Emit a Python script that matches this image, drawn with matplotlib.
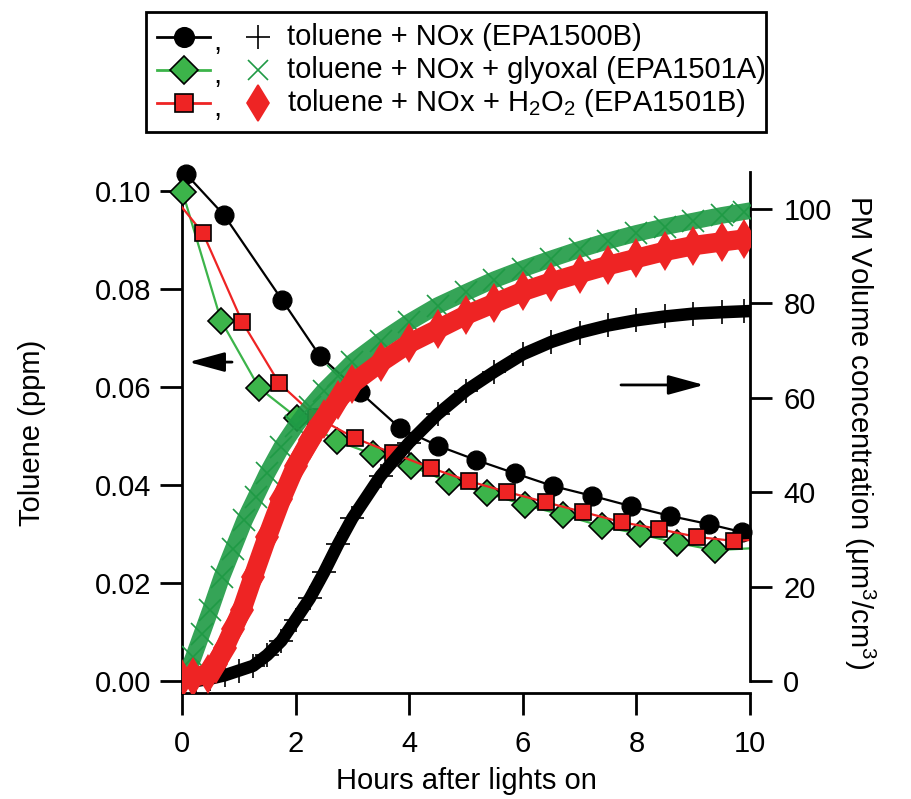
import matplotlib
matplotlib.use("Agg")
import matplotlib.pyplot as plt
from matplotlib.lines import Line2D
from matplotlib.patches import Rectangle

plt.rcParams['font.family'] = ['Liberation Sans', 'DejaVu Sans']
plt.rcParams['mathtext.fontset'] = 'custom'
plt.rcParams['mathtext.rm'] = 'Liberation Sans'
plt.rcParams['mathtext.it'] = 'Liberation Sans:italic'

FS = 21

# toluene (ppm), left axis
tol_t_1500b = [0.07, 0.74, 1.76, 2.43, 3.13, 3.84, 4.51, 5.18, 5.86, 6.53, 7.22, 7.90, 8.59, 9.28, 9.86]
tol_1500b = [0.1035, 0.0951, 0.0778, 0.0663, 0.0590, 0.0516, 0.0480, 0.0451, 0.0424, 0.0398,
             0.0378, 0.0357, 0.0337, 0.0320, 0.0304]

tol_t_1501a = [0.01, 0.69, 1.36, 2.03, 2.73, 3.36, 4.03, 4.70, 5.37, 6.04, 6.71, 7.39, 8.06, 8.71, 9.38, 10.2]
tol_1501a = [0.0998, 0.0735, 0.0598, 0.0537, 0.0490, 0.0463, 0.0439, 0.0406, 0.0384, 0.0359,
             0.0339, 0.0316, 0.0300, 0.0282, 0.0267, 0.0272]

tol_t_1501b = [0.0, 0.37, 1.06, 1.71, 2.36, 3.04, 3.71, 4.38, 5.05, 5.72, 6.40, 7.06, 7.75, 8.40, 9.07, 9.72, 10.2]
tol_1501b = [0.0967, 0.0914, 0.0733, 0.0608, 0.0539, 0.0496, 0.0465, 0.0435, 0.0408, 0.0386,
             0.0365, 0.0345, 0.0324, 0.0310, 0.0294, 0.0286, 0.0289]

# PM volume (um3/cm3), right axis
pm_t_1500b = [0.25, 0.5, 0.75, 1.0, 1.25, 1.5, 1.75, 2.0, 2.25, 2.5, 2.75, 3.0, 3.5, 4.0, 4.5,
              5.0, 5.5, 6.0, 6.5, 7.0, 7.5, 8.0, 8.5, 9.0, 9.5, 9.9]
pm_1500b = [0, 0.5, 1.2, 2.2, 3.2, 5.5, 8.5, 13, 17.5, 23, 29, 34.5, 43.5, 50.5, 56.5,
            61.5, 65.5, 69.2, 71.8, 73.8, 75.3, 76.4, 77.2, 77.8, 78.1, 78.3]

pm_t_1501a = [0.0, 0.1, 0.2, 0.35, 0.5, 0.7, 0.9, 1.1, 1.3, 1.5, 1.75, 2.0, 2.25, 2.5, 2.75,
              3.0, 3.5, 4.0, 4.5, 5.0, 5.5, 6.0, 6.5, 7.0, 7.5, 8.0, 8.5, 9.0, 9.5, 9.9]
pm_1501a = [0, 2, 5, 10, 15, 22, 28, 34, 39, 44, 49.5, 54, 58, 61.5, 64.5,
            67.5, 72, 76, 79.5, 82.3, 85, 87.3, 89.4, 91.4, 93.2, 94.8, 96.2, 97.4, 98.6, 99.4]

pm_t_1501b = [0.0, 0.2, 0.45, 0.6, 0.75, 0.9, 1.05, 1.25, 1.5, 1.75, 2.0, 2.25, 2.5, 2.75, 3.0,
              3.5, 4.0, 4.5, 5.0, 5.5, 6.0, 6.5, 7.0, 7.5, 8.0, 8.5, 9.0, 9.5, 9.9]
pm_1501b = [0.5, 0.8, 1.5, 3.5, 7, 11, 15, 22, 30.5, 38.5, 45.5, 51, 55.5, 59.5, 63,
            67.5, 71.5, 74.5, 77.5, 80, 82.5, 84.5, 86.3, 88, 89.5, 91, 92.2, 93, 93.6]

W, H = 912, 799
fig = plt.figure(figsize=(W / 100, H / 100), dpi=100)
ax = fig.add_axes([182 / W, 1 - 693 / H, (750 - 182) / W, (693 - 172) / H])
ax2 = ax.twinx()

black = 'black'
green_line = '#3cb44a'
green_dark = '#1f9a45'
red = '#ee2424'

# toluene traces
ax.plot(tol_t_1500b, tol_1500b, '-o', color=black, lw=1.6, ms=13.5, mfc=black, mec=black,
        clip_on=False, zorder=3)
ax.plot(tol_t_1501a[:-1], tol_1501a[:-1], 'D', color=green_line, ms=13.5, mfc=green_line,
        mec='black', mew=1.2, clip_on=False, zorder=4)
ax.plot(tol_t_1501a, tol_1501a, '-', color=green_line, lw=1.6, zorder=3)
ax.plot(tol_t_1501b[1:-1], tol_1501b[1:-1], 's', color=red, ms=12, mfc=red,
        mec='black', mew=1.2, clip_on=False, zorder=5)
ax.plot(tol_t_1501b, tol_1501b, '-', color=red, lw=1.6, zorder=4)

# PM traces
ax2.plot(pm_t_1500b, pm_1500b, '-', color=black, lw=9, zorder=2)
ax2.plot(pm_t_1500b, pm_1500b, '+', color=black, ms=17, mew=1.2, zorder=2)
ax2.plot(pm_t_1501a, pm_1501a, '-', color=green_dark, lw=12, alpha=0.9, zorder=3)
ax2.plot(pm_t_1501a, pm_1501a, 'x', color=green_dark, ms=16, mew=1.2, zorder=3)
ax2.plot(pm_t_1501b, pm_1501b, '-', color=red, lw=14, zorder=4)
ax2.plot(pm_t_1501b, pm_1501b, 'd', color=red, ms=20, mew=0, zorder=4)

ax.set_xlim(0, 10)
ax.set_ylim(-0.00245, 0.1039)
ax2.set_ylim(-2.54, 107.8)

ax.set_xticks([0, 2, 4, 6, 8, 10])
ax.set_yticks([0.0, 0.02, 0.04, 0.06, 0.08, 0.10])
ax.set_yticklabels(['0.00', '0.02', '0.04', '0.06', '0.08', '0.10'])
ax2.set_yticks([0, 20, 40, 60, 80, 100])

for s in ['top', 'right']:
    ax.spines[s].set_visible(False)
for s in ['top', 'left', 'bottom']:
    ax2.spines[s].set_visible(False)
ax2.spines['right'].set_bounds(0, 107.8)
for sp in [ax.spines['left'], ax.spines['bottom'], ax2.spines['right']]:
    sp.set_linewidth(2)

ax.tick_params(axis='y', direction='out', length=16, width=2, labelsize=FS, pad=6)
ax.tick_params(axis='x', direction='out', length=16, width=2, labelsize=FS, pad=11)
ax2.tick_params(direction='out', length=16, width=2, labelsize=FS, pad=8)

ax.set_xlabel('Hours after lights on', fontsize=FS, labelpad=6)
ax.set_ylabel('Toluene (ppm)', fontsize=FS, labelpad=35)
ax2.set_ylabel('PM Volume concentration (μm$^3$/cm$^3$)', fontsize=FS, rotation=-90,
               labelpad=33)

# arrows pointing to the axes
arrow_style = '-|>,head_length=1.1,head_width=0.3'
ax.annotate('', xy=(0.07, 0.0651), xytext=(0.93, 0.0651),
            arrowprops=dict(arrowstyle=arrow_style, color='black', lw=2, mutation_scale=20))
ax2.annotate('', xy=(9.24, 62.7), xytext=(7.68, 62.7),
             arrowprops=dict(arrowstyle=arrow_style, color='black', lw=2, mutation_scale=20))

# legend box drawn by hand
def fx(px):
    return px / W

def fy(py):
    return 1 - py / H

fig.add_artist(Rectangle((fx(146), fy(132)), 620 / W, 120 / H, fill=False, lw=2,
                         transform=fig.transFigure))
rows = [
    (37, black, 'o', black, 14, '+', black, 17, 'toluene + NOx (EPA1500B)'),
    (70, green_line, 'D', green_line, 14, 'x', green_dark, 14, 'toluene + NOx + glyoxal (EPA1501A)'),
    (103, red, 's', red, 13, 'd', red, 18, 'toluene + NOx + H$_2$O$_2$ (EPA1501B)'),
]
for py, lc, m1, fc, ms1, m2, c2, ms2, label in rows:
    mec = black if m1 != 'o' else fc
    fig.add_artist(Line2D([fx(157), fx(210)], [fy(py), fy(py)], color=lc, lw=2,
                          transform=fig.transFigure))
    fig.add_artist(Line2D([fx(184)], [fy(py)], marker=m1, ms=ms1, mfc=fc, mec=mec, mew=1.2,
                          transform=fig.transFigure))
    fig.text(fx(213), fy(py + 5), ',', fontsize=FS, va='center')
    fig.add_artist(Line2D([fx(258)], [fy(py)], marker=m2, ms=ms2, color=c2, mew=1.2,
                          transform=fig.transFigure))
    fig.text(fx(287), fy(py), label, fontsize=FS, va='center')

fig.savefig('out.png', dpi=100)
